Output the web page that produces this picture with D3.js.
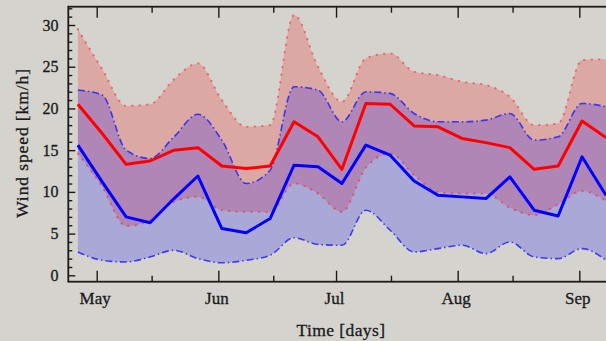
<!DOCTYPE html>
<html>
<head>
<meta charset="utf-8">
<script src="https://cdn.jsdelivr.net/npm/d3@7"></script>
<style>
  html, body { margin: 0; padding: 0; background: #d4d3ce; }
  svg { display: block; }
  text { font-family: "Liberation Serif", "DejaVu Serif", serif; fill: #1a1a1a;
         stroke: #1a1a1a; stroke-width: 0.3px; }
</style>
</head>
<body>
<svg id="chart" width="606" height="341"></svg>
<script>
// Sampling days (day of year)
const days = [116.2, 122.4, 128.5, 134.6, 140.7, 146.8, 152.9, 159.1, 165.2, 171.3, 177.4,
              183.5, 189.6, 195.8, 201.9, 208.0, 214.1, 220.2, 226.3, 232.5, 238.6, 244.7, 250.8];

// Red series: mean and band
const redMean  = [20.5, 17.0, 13.3, 13.7, 15.0, 15.3, 13.1, 12.8, 13.1, 18.4, 16.6,
                  12.7, 20.6, 20.5, 17.9, 17.8, 16.4, 15.9, 15.3, 12.7, 13.1, 18.5, 16.5];
const redUpper = [29.5, 24.7, 20.3, 20.5, 23.5, 25.4, 21.0, 17.8, 18.0, 31.2, 25.0,
                  20.8, 26.0, 26.6, 24.4, 24.0, 23.2, 22.8, 21.4, 18.0, 18.2, 25.8, 25.9];
const redLower = [14.6, 10.6, 5.9, 6.6, 8.8, 9.4, 7.8, 7.6, 7.6, 11.0, 9.8,
                  7.6, 12.9, 14.6, 12.0, 10.0, 9.8, 9.8, 8.1, 7.2, 8.5, 10.1, 8.9];

// Blue series: mean and band
const blueMean  = [15.6, 11.2, 7.0, 6.3, 9.2, 11.9, 5.6, 5.1, 6.8, 13.2, 13.0,
                   11.0, 15.6, 14.4, 11.3, 9.6, 9.4, 9.2, 11.8, 7.8, 7.1, 14.2, 9.6];
const blueUpper = [22.2, 21.6, 15.0, 14.0, 16.6, 19.3, 16.2, 11.0, 12.6, 22.6, 22.2,
                   18.4, 22.0, 21.8, 19.4, 18.4, 18.4, 18.6, 19.4, 16.2, 16.6, 20.6, 20.2];
const blueLower = [2.8, 1.8, 1.6, 2.2, 3.0, 2.0, 1.5, 1.8, 2.4, 4.5, 3.7,
                   3.6, 7.8, 5.4, 2.8, 3.2, 3.6, 2.6, 4.0, 2.2, 2.0, 3.2, 1.8];

// Axis ticks
const monthDays   = [121, 152, 182, 213, 244];
const monthLabels = ["May", "Jun", "Jul", "Aug", "Sep"];
const midMonthDays = [135, 166, 196, 227];
const yMajor = [0, 5, 10, 15, 20, 25, 30];
const yMinor = d3.range(0, 33).filter(v => v % 5 !== 0);

const svg = d3.select("#chart");
const frameLeft = 68.3, frameRight = 612, frameTop = 6.7, frameBottom = 281.7;

const x = d3.scaleLinear().domain([121, 244]).range([96.7, 579.3]);
const y = d3.scaleLinear().domain([0, 30]).range([275.3, 25]);

svg.append("defs").append("clipPath").attr("id", "plot")
  .append("rect").attr("x", frameLeft).attr("y", frameTop)
  .attr("width", frameRight - frameLeft).attr("height", frameBottom - frameTop);

const g = svg.append("g").attr("clip-path", "url(#plot)");

function band(upper, lower) {
  return d3.area()
    .x((d, i) => x(days[i]))
    .y0((d, i) => y(lower[i]))
    .y1((d, i) => y(upper[i]))
    .curve(d3.curveMonotoneX)(days);
}
function edge(vals, curve) {
  return d3.line()
    .x((d, i) => x(days[i]))
    .y((d, i) => y(vals[i]))
    .curve(curve)(days);
}

// Shaded ranges
g.append("path").attr("d", band(redUpper, redLower))
  .attr("fill", "#ff0000").attr("fill-opacity", 0.2);
g.append("path").attr("d", band(blueUpper, blueLower))
  .attr("fill", "#0000ff").attr("fill-opacity", 0.2);

// Range edges
[redUpper, redLower].forEach(v => {
  g.append("path").attr("d", edge(v, d3.curveMonotoneX))
    .attr("fill", "none").attr("stroke", "#ff2020").attr("stroke-opacity", 0.55)
    .attr("stroke-width", 2).attr("stroke-linecap", "round")
    .attr("stroke-dasharray", "0.5,7");
});
[blueUpper, blueLower].forEach(v => {
  g.append("path").attr("d", edge(v, d3.curveMonotoneX))
    .attr("fill", "none").attr("stroke", "#1a1aff").attr("stroke-opacity", 0.8)
    .attr("stroke-width", 1.6)
    .attr("stroke-dasharray", "7,3,1.5,3");
});

// Mean lines
g.append("path").attr("d", edge(redMean, d3.curveLinear))
  .attr("fill", "none").attr("stroke", "#ff0000").attr("stroke-width", 3)
  .attr("stroke-linejoin", "round");
g.append("path").attr("d", edge(blueMean, d3.curveLinear))
  .attr("fill", "none").attr("stroke", "#0000ff").attr("stroke-width", 3)
  .attr("stroke-linejoin", "round");

// Frame and inward ticks
const axisColor = "#1a1a1a";
function styleAxis(sel) {
  sel.select(".domain").remove();
  sel.selectAll("line").attr("stroke", axisColor).attr("stroke-width", 1.4);
}

svg.append("g").attr("transform", `translate(0,${frameBottom})`)
  .call(d3.axisBottom(x).tickValues(monthDays).tickSize(-11).tickFormat(""))
  .call(styleAxis);
svg.append("g").attr("transform", `translate(0,${frameBottom})`)
  .call(d3.axisBottom(x).tickValues(midMonthDays).tickSize(-6).tickFormat(""))
  .call(styleAxis);
svg.append("g").attr("transform", `translate(0,${frameTop})`)
  .call(d3.axisTop(x).tickValues(monthDays).tickSize(-11).tickFormat(""))
  .call(styleAxis);
svg.append("g").attr("transform", `translate(0,${frameTop})`)
  .call(d3.axisTop(x).tickValues(midMonthDays).tickSize(-6).tickFormat(""))
  .call(styleAxis);
svg.append("g").attr("transform", `translate(${frameLeft},0)`)
  .call(d3.axisLeft(y).tickValues(yMajor).tickSize(-7).tickFormat(""))
  .call(styleAxis);
svg.append("g").attr("transform", `translate(${frameLeft},0)`)
  .call(d3.axisLeft(y).tickValues(yMinor).tickSize(-4).tickFormat(""))
  .call(styleAxis);

svg.append("rect").attr("x", frameLeft).attr("y", frameTop)
  .attr("width", frameRight - frameLeft).attr("height", frameBottom - frameTop)
  .attr("fill", "none").attr("stroke", axisColor).attr("stroke-width", 1.8);

// Tick labels
svg.append("g").selectAll("text").data(monthDays).join("text")
  .attr("x", d => x(d) - 1.5).attr("y", 304)
  .attr("text-anchor", "middle").attr("font-size", 17)
  .text((d, i) => monthLabels[i]);
svg.append("g").selectAll("text").data(yMajor).join("text")
  .attr("x", 58.5).attr("y", d => y(d) + 5.5)
  .attr("text-anchor", "end").attr("font-size", 16)
  .text(d => d);

// Axis titles
svg.append("text").attr("x", 341).attr("y", 336)
  .attr("text-anchor", "middle").attr("font-size", 17.5)
  .attr("letter-spacing", 0.4)
  .text("Time [days]");
svg.append("text").attr("transform", "translate(28,143) rotate(-90)")
  .attr("text-anchor", "middle").attr("font-size", 17.5)
  .attr("letter-spacing", 0.9)
  .text("Wind speed [km/h]");
</script>
</body>
</html>
